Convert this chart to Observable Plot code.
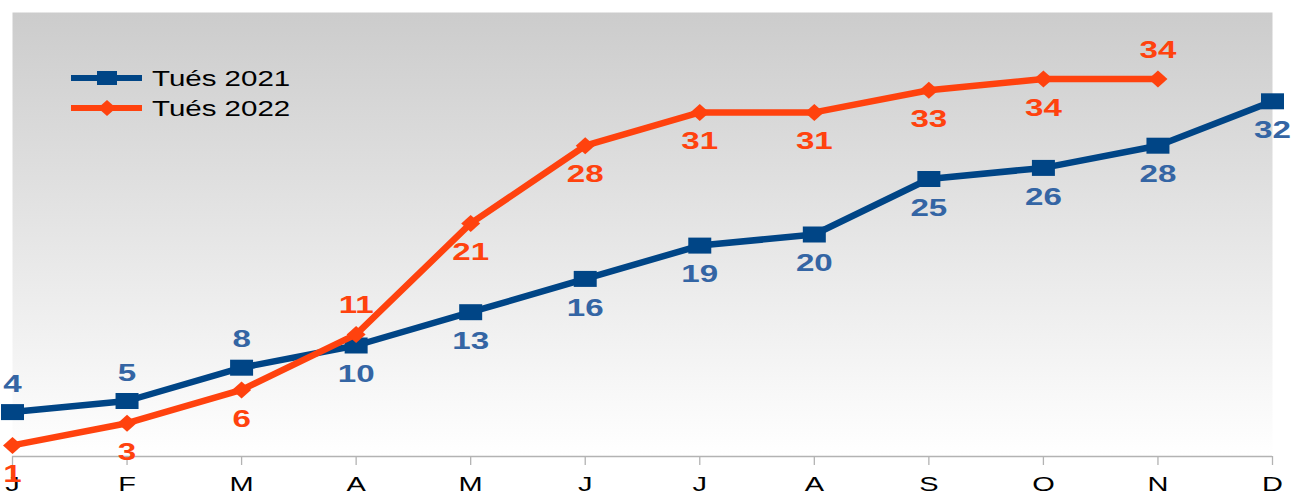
<!DOCTYPE html>
<html>
<head>
<meta charset="utf-8">
<script src="https://cdn.jsdelivr.net/npm/d3@7"></script>
<script src="https://cdn.jsdelivr.net/npm/@observablehq/plot@0.6"></script>
<style>
  html, body { margin: 0; padding: 0; background: #ffffff; }
  #wrap { position: relative; width: 1307px; height: 493px; font-family: "Liberation Sans", Arial, sans-serif; }
  #legend { position: absolute; left: 0; top: 0; }
</style>
</head>
<body>
<div id="wrap"></div>
<script>
// ---- data ----
const months = ["J", "F", "M", "A", "M", "J", "J", "A", "S", "O", "N", "D"];
const killed2021 = [4, 5, 8, 10, 13, 16, 19, 20, 25, 26, 28, 32];
const killed2022 = [1, 3, 6, 11, 21, 28, 31, 31, 33, 34, 34];
const seriesNames = ["Tués 2021", "Tués 2022"];

// label placement (which points get their value written above the marker)
const above2021 = new Set([0, 1, 2]);
const above2022 = new Set([3, 10]);

const blue = "#004586", blueText = "#3465a4", orange = "#ff420e";

const d21 = killed2021.map((v, i) => ({i, v, up: above2021.has(i)}));
const d22 = killed2022.map((v, i) => ({i, v, up: above2022.has(i)}));

const rectSym = {draw(ctx) { ctx.moveTo(-11.5, -8); ctx.lineTo(11.5, -8); ctx.lineTo(11.5, 8); ctx.lineTo(-11.5, 8); ctx.closePath(); }};
const diamondSym = {draw(ctx) { ctx.moveTo(0, -8.5); ctx.lineTo(9.5, 0); ctx.lineTo(0, 8.5); ctx.lineTo(-9.5, 0); ctx.closePath(); }};

const labelStyle = {fontSize: 24, fontWeight: "bold", lineAnchor: "middle", textAnchor: "middle"};

const chart = Plot.plot({
  width: 1307,
  height: 493,
  marginLeft: 12,
  marginRight: 35,
  marginTop: 12,
  marginBottom: 37,
  style: {fontFamily: "'Liberation Sans', Arial, sans-serif", background: "transparent", overflow: "visible"},
  x: {domain: [0, months.length - 1], label: null},
  y: {domain: [0, 40], label: null},
  marks: [
    Plot.frame({fill: "url(#bggrad)", stroke: "none"}),
    Plot.ruleY([0], {stroke: "#b3b3b3", strokeWidth: 1.3}),
    Plot.axisX(d3.range(months.length), {
      tickFormat: i => months[i], tickSize: 9, tickPadding: 11, label: null,
      stroke: "#b3b3b3", fill: "black", fontSize: 21, strokeWidth: 1.3
    }),
    Plot.axisY({ticks: [], label: null}),
    Plot.line(d21, {x: "i", y: "v", stroke: blue, strokeWidth: 6.5}),
    Plot.dot(d21, {x: "i", y: "v", symbol: rectSym, fill: blue, r: 8}),
    Plot.line(d22, {x: "i", y: "v", stroke: orange, strokeWidth: 6.5}),
    Plot.dot(d22, {x: "i", y: "v", symbol: diamondSym, fill: orange, r: 8}),
    Plot.text(d21.filter(d => !d.up), {x: "i", y: "v", text: "v", dy: 29, fill: blueText, ...labelStyle}),
    Plot.text(d21.filter(d => d.up), {x: "i", y: "v", text: "v", dy: -28, fill: blueText, ...labelStyle}),
    Plot.text(d22.filter(d => !d.up), {x: "i", y: "v", text: "v", dy: 29, fill: orange, ...labelStyle}),
    Plot.text(d22.filter(d => d.up), {x: "i", y: "v", text: "v", dy: -29, fill: orange, ...labelStyle})
  ]
});

// background gradient
const svgNS = "http://www.w3.org/2000/svg";
const defs = document.createElementNS(svgNS, "defs");
defs.innerHTML = '<linearGradient id="bggrad" x1="0" y1="0" x2="0" y2="1"><stop offset="0" stop-color="#cccccc"/><stop offset="1" stop-color="#ffffff"/></linearGradient>';
chart.insertBefore(defs, chart.firstChild);

// horizontal stretch of text, as in the reference
chart.querySelectorAll("text").forEach(t => {
  const tr = t.getAttribute("transform") || "";
  t.setAttribute("transform", tr + " scale(1.38,1)");
});

document.getElementById("wrap").appendChild(chart);

// legend overlay
const leg = d3.select("#wrap").append("svg").attr("id", "legend").attr("width", 400).attr("height", 140);
const items = [
  {name: seriesNames[0], color: blue, sym: "rect", y: 78},
  {name: seriesNames[1], color: orange, sym: "diamond", y: 108}
];
items.forEach(it => {
  leg.append("line").attr("x1", 71).attr("x2", 142).attr("y1", it.y).attr("y2", it.y)
    .attr("stroke", it.color).attr("stroke-width", 6);
  if (it.sym === "rect") {
    leg.append("rect").attr("x", 97).attr("y", it.y - 7).attr("width", 20).attr("height", 14).attr("fill", it.color);
  } else {
    leg.append("path").attr("d", `M107,${it.y - 8}L116,${it.y}L107,${it.y + 8}L98,${it.y}Z`).attr("fill", it.color);
  }
  leg.append("text").attr("transform", `translate(152,${it.y + 8}) scale(1.34,1)`)
    .attr("font-size", 22).attr("fill", "black")
    .attr("font-family", "'Liberation Sans', Arial, sans-serif").text(it.name);
});
</script>
</body>
</html>
